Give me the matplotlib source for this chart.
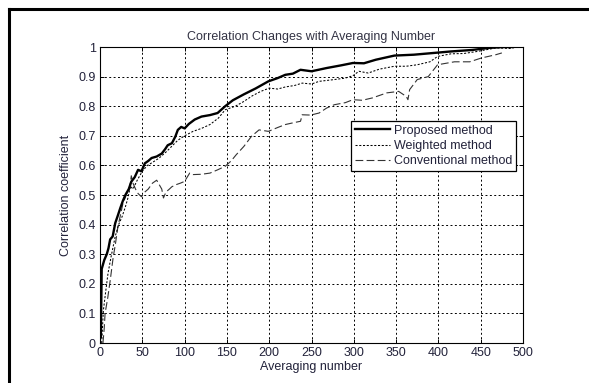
import matplotlib
matplotlib.use('Agg')
import matplotlib.pyplot as plt
from matplotlib.lines import Line2D

# values (averaging number, correlation)
proposed_pts = [(1, 0.02), (2, 0.25), (5, 0.28), (8, 0.30), (10, 0.32), (12, 0.35), (15, 0.36),
                (18, 0.405), (21, 0.43), (24, 0.456), (27, 0.48), (30, 0.50), (34, 0.52), (37, 0.545),
                (41, 0.56), (45, 0.585), (49, 0.58), (53, 0.607), (57, 0.615), (61, 0.625), (67, 0.63),
                (73, 0.64), (77, 0.655), (80, 0.668), (85, 0.675), (89, 0.697), (92, 0.72), (96, 0.73),
                (100, 0.725), (105, 0.74), (112, 0.755), (120, 0.765), (130, 0.77), (139, 0.777),
                (148, 0.80), (157, 0.82), (170, 0.84), (184, 0.86), (199, 0.884), (210, 0.895),
                (219, 0.906), (228, 0.91), (237, 0.923), (250, 0.918), (268, 0.929), (285, 0.938),
                (299, 0.946), (312, 0.945), (326, 0.957), (348, 0.971), (371, 0.974), (395, 0.98),
                (415, 0.985), (440, 0.99), (460, 0.997), (477, 1.0), (488, 1.0)]

weighted_pts = [(2, 0.0), (4, 0.11), (7, 0.18), (9.5, 0.236), (13, 0.29), (18, 0.36), (22, 0.40),
                (26, 0.426), (30, 0.46), (33, 0.49), (36, 0.53), (39, 0.52), (44, 0.55), (50, 0.58),
                (56, 0.60), (62, 0.61), (70, 0.625), (78, 0.645), (85, 0.665), (92, 0.685), (100, 0.70),
                (110, 0.715), (120, 0.725), (130, 0.738), (140, 0.76), (148, 0.788), (160, 0.80),
                (170, 0.816), (180, 0.835), (190, 0.85), (200, 0.861), (210, 0.858), (219, 0.865),
                (230, 0.87), (239, 0.878), (250, 0.875), (259, 0.884), (277, 0.89), (290, 0.895),
                (299, 0.903), (306, 0.918), (317, 0.912), (330, 0.925), (348, 0.935), (362, 0.935),
                (375, 0.94), (390, 0.95), (399, 0.968), (415, 0.977), (430, 0.978), (446, 0.985),
                (468, 0.997), (485, 0.995), (492, 1.0)]

conventional_pts = [(3.5, 0.0), (5, 0.05), (6, 0.10), (9, 0.15), (12, 0.21), (15.6, 0.29), (18, 0.33),
                    (21, 0.39), (24, 0.43), (27, 0.47), (31, 0.50), (35, 0.52), (37, 0.565), (39, 0.54),
                    (42, 0.52), (45, 0.505), (49, 0.494), (53, 0.51), (57, 0.52), (62, 0.54), (67, 0.55),
                    (70, 0.535), (73, 0.52), (75, 0.49), (78, 0.51), (82, 0.52), (85, 0.528), (90, 0.535),
                    (95, 0.54), (100, 0.546), (106, 0.574), (110, 0.569), (120, 0.57), (130, 0.574),
                    (139, 0.585), (148, 0.597), (155, 0.615), (161, 0.636), (170, 0.664), (179, 0.698),
                    (188, 0.72), (199, 0.715), (210, 0.728), (219, 0.738), (230, 0.745), (237, 0.749),
                    (239, 0.771), (249, 0.77), (259, 0.777), (268, 0.794), (277, 0.805), (290, 0.812),
                    (299, 0.822), (310, 0.82), (322, 0.828), (339, 0.845), (353, 0.85), (362, 0.833),
                    (364, 0.822), (366, 0.856), (375, 0.89), (388, 0.9), (399, 0.94), (419, 0.95),
                    (437, 0.95), (451, 0.963), (468, 0.974), (475, 0.98)]

labels = ['Proposed method', 'Weighted method', 'Conventional method']
x_ticks = [0, 50, 100, 150, 200, 250, 300, 350, 400, 450, 500]
y_ticks = [0, 0.1, 0.2, 0.3, 0.4, 0.5, 0.6, 0.7, 0.8, 0.9, 1]

plt.rcParams['font.family'] = ['Liberation Sans', 'DejaVu Sans']
txt_color = '#22223a'
fs = 9

W, H = 589, 383
fig = plt.figure(figsize=(W / 100, H / 100), dpi=100)
fig.patch.set_facecolor('white')
ax = fig.add_axes([100 / W, 1 - 343 / H, 423 / W, 296 / H])

# outer frame (only top and left edges visible in the reference)
fig.add_artist(Line2D([9 / W, 9 / W], [0, 1 - 9 / H], color='black', lw=2.2,
                      transform=fig.transFigure))
fig.add_artist(Line2D([9 / W, 1], [1 - 9 / H, 1 - 9 / H], color='black', lw=2.2,
                      transform=fig.transFigure))

px, py = zip(*proposed_pts)
wx, wy = zip(*weighted_pts)
cx, cy = zip(*conventional_pts)

ax.plot(px, py, color='black', lw=1.7, label=labels[0], zorder=4)
ax.plot(wx, wy, color='black', lw=0.75, linestyle=(0, (2, 1.6)), label=labels[1], zorder=3)
ax.plot(cx, cy, color='#333333', lw=0.8, linestyle=(0, (7, 3)), label=labels[2], zorder=2)

ax.set_xlim(0, 500)
ax.set_ylim(0, 1)
ax.set_xticks(x_ticks)
ax.set_yticks(y_ticks)
ax.set_yticklabels([f'{v:g}' for v in y_ticks])
ax.tick_params(direction='in', top=True, right=True, length=3, width=0.7,
               labelsize=fs, colors='black', labelcolor=txt_color, pad=3)
ax.grid(True, color='black', linestyle=(0, (2, 2.5)), lw=0.7)
for s in ax.spines.values():
    s.set_linewidth(0.8)
    s.set_color('black')

ax.set_title('Correlation Changes with Averaging Number', fontsize=fs, color='#333344', pad=5)
ax.set_xlabel('Averaging number', fontsize=fs, color=txt_color, labelpad=1)
ax.set_ylabel('Correlation coefficient', fontsize=fs, color=txt_color, labelpad=5)

leg = ax.legend(loc='upper right', bbox_to_anchor=(0.983, 0.75), fontsize=fs,
                fancybox=False, framealpha=1, edgecolor='black', handlelength=2.8,
                handletextpad=0.3, labelspacing=0.25, borderaxespad=0, borderpad=0.3)
leg.get_frame().set_linewidth(0.9)
for t in leg.get_texts():
    t.set_color(txt_color)

plt.savefig('out.png', dpi=100)
